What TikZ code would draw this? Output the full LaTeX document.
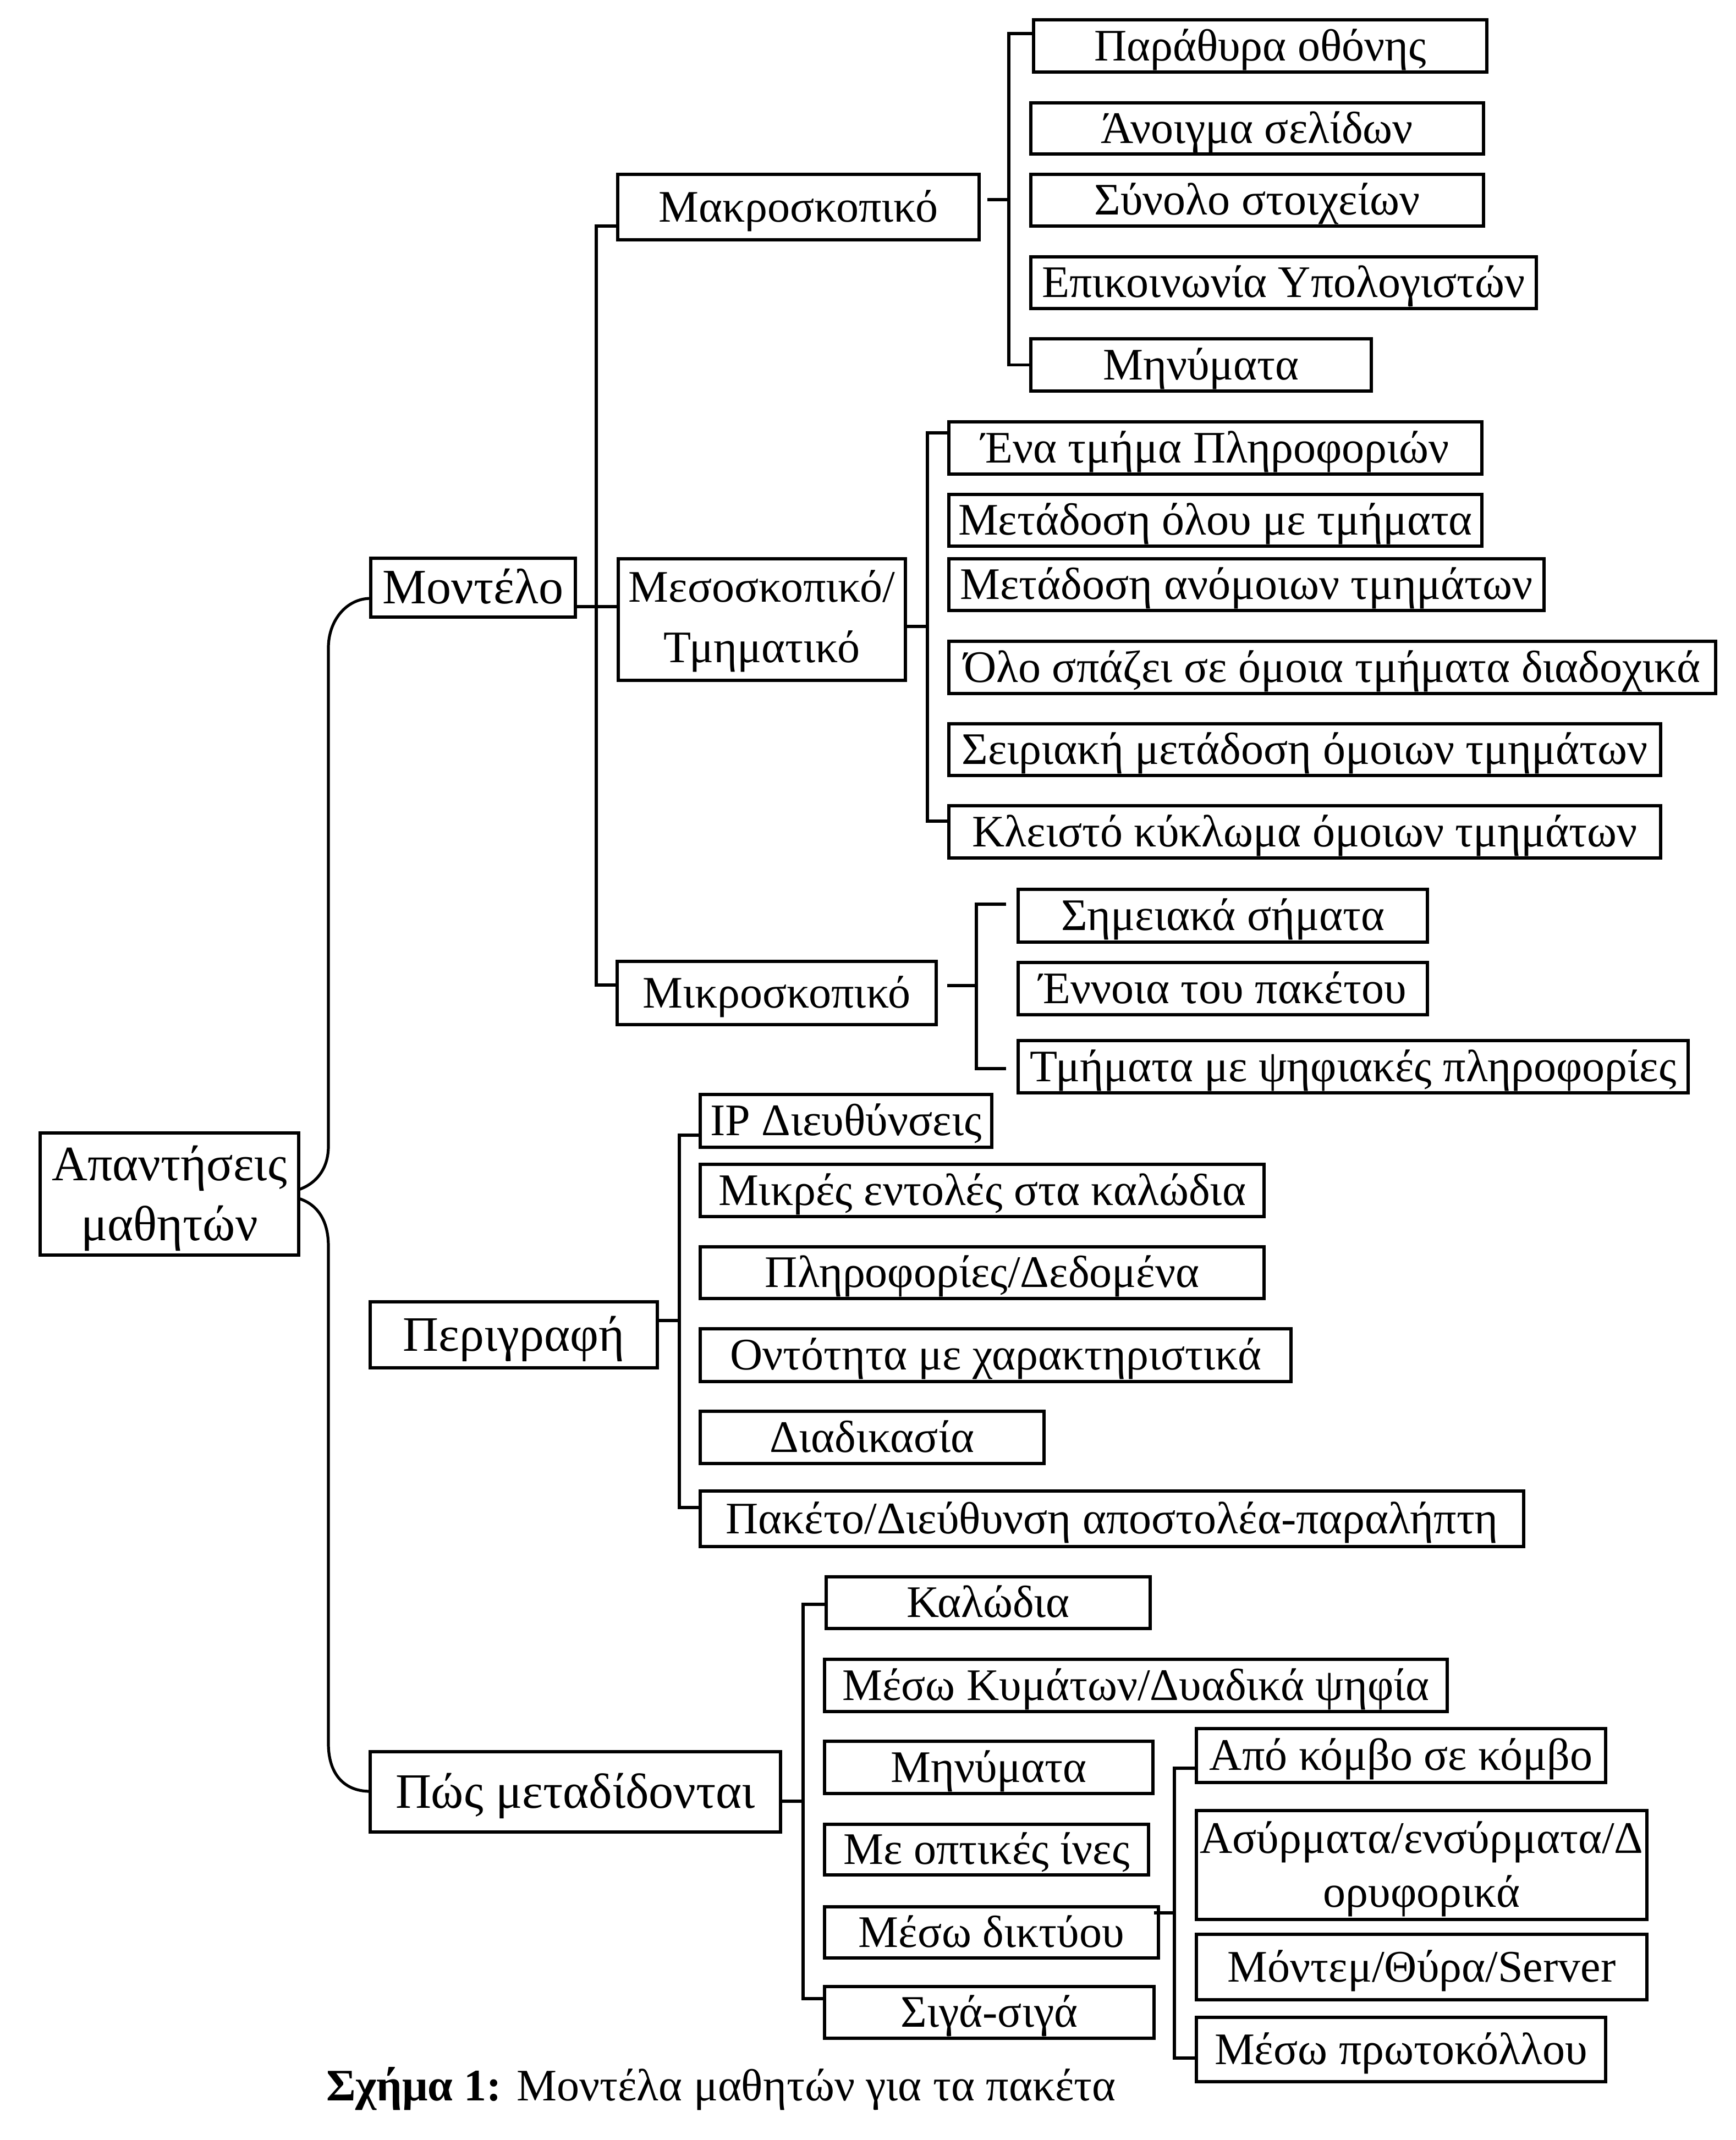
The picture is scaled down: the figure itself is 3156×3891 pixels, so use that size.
\documentclass[tikz,border=0pt]{standalone}
\usepackage{fontspec}
\setmainfont{Liberation Serif}
\usetikzlibrary{calc}
\newcommand\twoln[5]{\raisebox{0pt}[#1][#2]{\vbox{\baselineskip=#3\lineskiplimit=-100pt\lineskip=0pt\halign{\hfil##\hfil\cr#4\cr#5\cr}}}}
\tikzset{
  base/.style={draw, line width=1.5pt, inner sep=0pt, outer sep=0pt},
  sm/.style={base, font=\fontsize{20.5}{24}\selectfont, text height=15.4pt, text depth=2pt},
  lg/.style={base, font=\fontsize{22.5}{27}\selectfont, text height=17pt, text depth=2.3pt},
  sz/.style 2 args={minimum width=#1*0.25pt-1.5pt, minimum height=#2*0.25pt-1.5pt},
  ln/.style={line width=1.3pt},
}
\begin{document}
\begin{tikzpicture}[x=0.25pt,y=-0.25pt]
\fill[white] (0,0) rectangle (3156,3891);
\useasboundingbox (0,0) rectangle (3156,3891);
% root and level 1
\node[base, font=\fontsize{22.5}{27}\selectfont, sz={476}{228}] (R) at (308,2171) {\twoln{44pt}{2pt}{27.25pt}{Απαντήσεις}{μαθητών}};
\node[lg, sz={378}{113}] (M) at (860,1068.5) {Μοντέλο};
\node[lg, sz={528}{126}] (P) at (934,2427) {Περιγραφή};
\node[lg, sz={752}{152}] (T) at (1046,3258) {Πώς μεταδίδονται};
% level 2 under Μοντέλο
\node[sm, sz={663}{125}] (Ma) at (1451.5,376.5) {Μακροσκοπικό};
\node[base, font=\fontsize{20.5}{24}\selectfont, sz={528}{227}] (Me) at (1385,1126.5) {\twoln{41.2pt}{2pt}{27.5pt}{Μεσοσκοπικό/}{Τμηματικό}};
\node[sm, sz={586}{121}] (Mi) at (1412,1805.5) {Μικροσκοπικό};
% Μακροσκοπικό children
\node[sm, sz={830}{101}] (a1) at (2291,83.5) {Παράθυρα οθόνης};
\node[sm, sz={829}{99}] (a2) at (2285.5,233.5) {Άνοιγμα σελίδων};
\node[sm, sz={829}{100}] (a3) at (2285.5,364) {Σύνολο στοιχείων};
\node[sm, sz={925}{100}] (a4) at (2333.5,514) {Επικοινωνία Υπολογιστών};
\node[sm, sz={625}{101}] (a5) at (2183.5,663.5) {Μηνύματα};
% Μεσοσκοπικό children
\node[sm, sz={975}{101}] (b1) at (2209.5,814.5) {Ένα τμήμα Πληροφοριών};
\node[sm, sz={975}{100}] (b2) at (2209.5,946) {Μετάδοση όλου με τμήματα};
\node[sm, sz={1088}{100}] (b3) at (2266,1063) {Μετάδοση ανόμοιων τμημάτων};
\node[sm, sz={1400}{101}] (b4) at (2422,1213.5) {Όλο σπάζει σε όμοια τμήματα διαδοχικά};
\node[sm, sz={1300}{100}] (b5) at (2372,1363) {Σειριακή μετάδοση όμοιων τμημάτων};
\node[sm, sz={1300}{101}] (b6) at (2372,1512.5) {Κλειστό κύκλωμα όμοιων τμημάτων};
% Μικροσκοπικό children
\node[sm, sz={750}{102}] (c1) at (2223,1665) {Σημειακά σήματα};
\node[sm, sz={750}{101}] (c2) at (2223,1797.5) {Έννοια του πακέτου};
\node[sm, sz={1224}{101}] (c3) at (2460,1939.5) {Τμήματα με ψηφιακές πληροφορίες};
% Περιγραφή children
\node[sm, sz={536}{102}] (d1) at (1538,2038) {IP Διευθύνσεις};
\node[sm, sz={1031}{101}] (d2) at (1785.5,2164.5) {Μικρές εντολές στα καλώδια};
\node[sm, sz={1031}{100}] (d3) at (1785.5,2314) {Πληροφορίες/Δεδομένα};
\node[sm, sz={1080}{102}] (d4) at (1810,2464) {Οντότητα με χαρακτηριστικά};
\node[sm, sz={631}{101}] (d5) at (1585.5,2613.5) {Διαδικασία};
\node[sm, sz={1503}{107}] (d6) at (2021.5,2761.5) {Πακέτο/Διεύθυνση αποστολέα-παραλήπτη};
% Πώς μεταδίδονται children
\node[sm, sz={595}{100}] (e1) at (1796.5,2914) {Καλώδια};
\node[sm, sz={1138}{101}] (e2) at (2065,3064.5) {Μέσω Κυμάτων/Δυαδικά ψηφία};
\node[sm, sz={603}{101}] (e3) at (1797.5,3213.5) {Μηνύματα};
\node[sm, sz={595}{98}] (e4) at (1793.5,3363) {Με οπτικές ίνες};
\node[sm, sz={613}{99}] (e5) at (1802.5,3513.5) {Μέσω δικτύου};
\node[sm, sz={605}{100}] (e6) at (1798.5,3659) {Σιγά-σιγά};
% Μέσω δικτύου children
\node[sm, sz={750}{104}] (f1) at (2547,3192) {Από κόμβο σε κόμβο};
\node[base, font=\fontsize{20.5}{24}\selectfont, sz={825}{204}] (f2) at (2584.5,3391) {\twoln{40pt}{2pt}{24.5pt}{Ασύρματα/ενσύρματα/Δ}{ορυφορικά}};
\node[sm, sz={825}{125}] (f3) at (2584.5,3576.5) {Μόντεμ/Θύρα/Server};
\node[sm, sz={750}{123}] (f4) at (2547,3726.5) {Μέσω πρωτοκόλλου};
% caption
\node[font=\fontsize{20.5}{24}\selectfont, anchor=base, inner sep=0pt] (cap) at (1311,3819) {\textbf{Σχήμα 1:} Μοντέλα μαθητών για τα πακέτα};
% connectors: root
\draw[ln] ($(R.east)+(0,-8)$) .. controls (575,2152) and (597,2125) .. (597,2084) -- (597,1178) .. controls (597,1128) and (630,1088) .. ($(M.west)+(0,19.5)$);
\draw[ln] ($(R.east)+(0,8)$) .. controls (578,2190) and (597,2220) .. (597,2266) -- (597,3170) .. controls (597,3225) and (625,3257) .. ($(T.west)+(0,-1)$);
% Μοντέλο
\draw[ln] ($(Ma.west)+(0,34.5)$) -- ++(-39,0) |- ($(Mi.west)+(0,-14.5)$);
\coordinate (mst) at ($(M.east)+(0,34.5)$);
\draw[ln] (mst) -- (mst -| Me.west);
% Μακροσκοπικό
\draw[ln] ($(Ma.east)+(15,-13.5)$) -- ++(38,0);
\draw[ln] ($(a1.west)+(0,-22.5)$) -- ++(-45,0) |- (a5.west);
% Μεσοσκοπικό
\draw[ln] ($(Me.east)+(0,12.5)$) -- ++(40,0);
\draw[ln] ($(b1.west)+(0,-27.5)$) -- ++(-39,0) |- ($(b6.west)+(0,-19.5)$);
% Μικροσκοπικό
\draw[ln] ($(Mi.east)+(20,-13.5)$) -- ++(53,0);
\draw[ln] ($(c1.west)+(-22,-21)$) -- ++(-54,0) |- ($(c3.west)+(-22,3.5)$);
% Περιγραφή
\draw[ln] ($(P.east)+(0,-26)$) -- ++(40,0);
\draw[ln] ($(d1.west)+(0,26)$) -- ++(-38,0) |- ($(d6.west)+(0,-20.5)$);
% Πώς μεταδίδονται
\draw[ln] ($(T.east)+(0,17)$) -- ++(41,0);
\draw[ln] ($(e1.west)+(0,3)$) -- ++(-42,0) |- ($(e6.west)+(0,-25)$);
% Μέσω δικτύου
\draw[ln] ($(e5.east)+(-8,-35.5)$) -- ++(37,0);
\draw[ln] ($(f1.west)+(0,23)$) -- ++(-40,0) |- ($(f4.west)+(0,15.5)$);
\end{tikzpicture}
\end{document}
